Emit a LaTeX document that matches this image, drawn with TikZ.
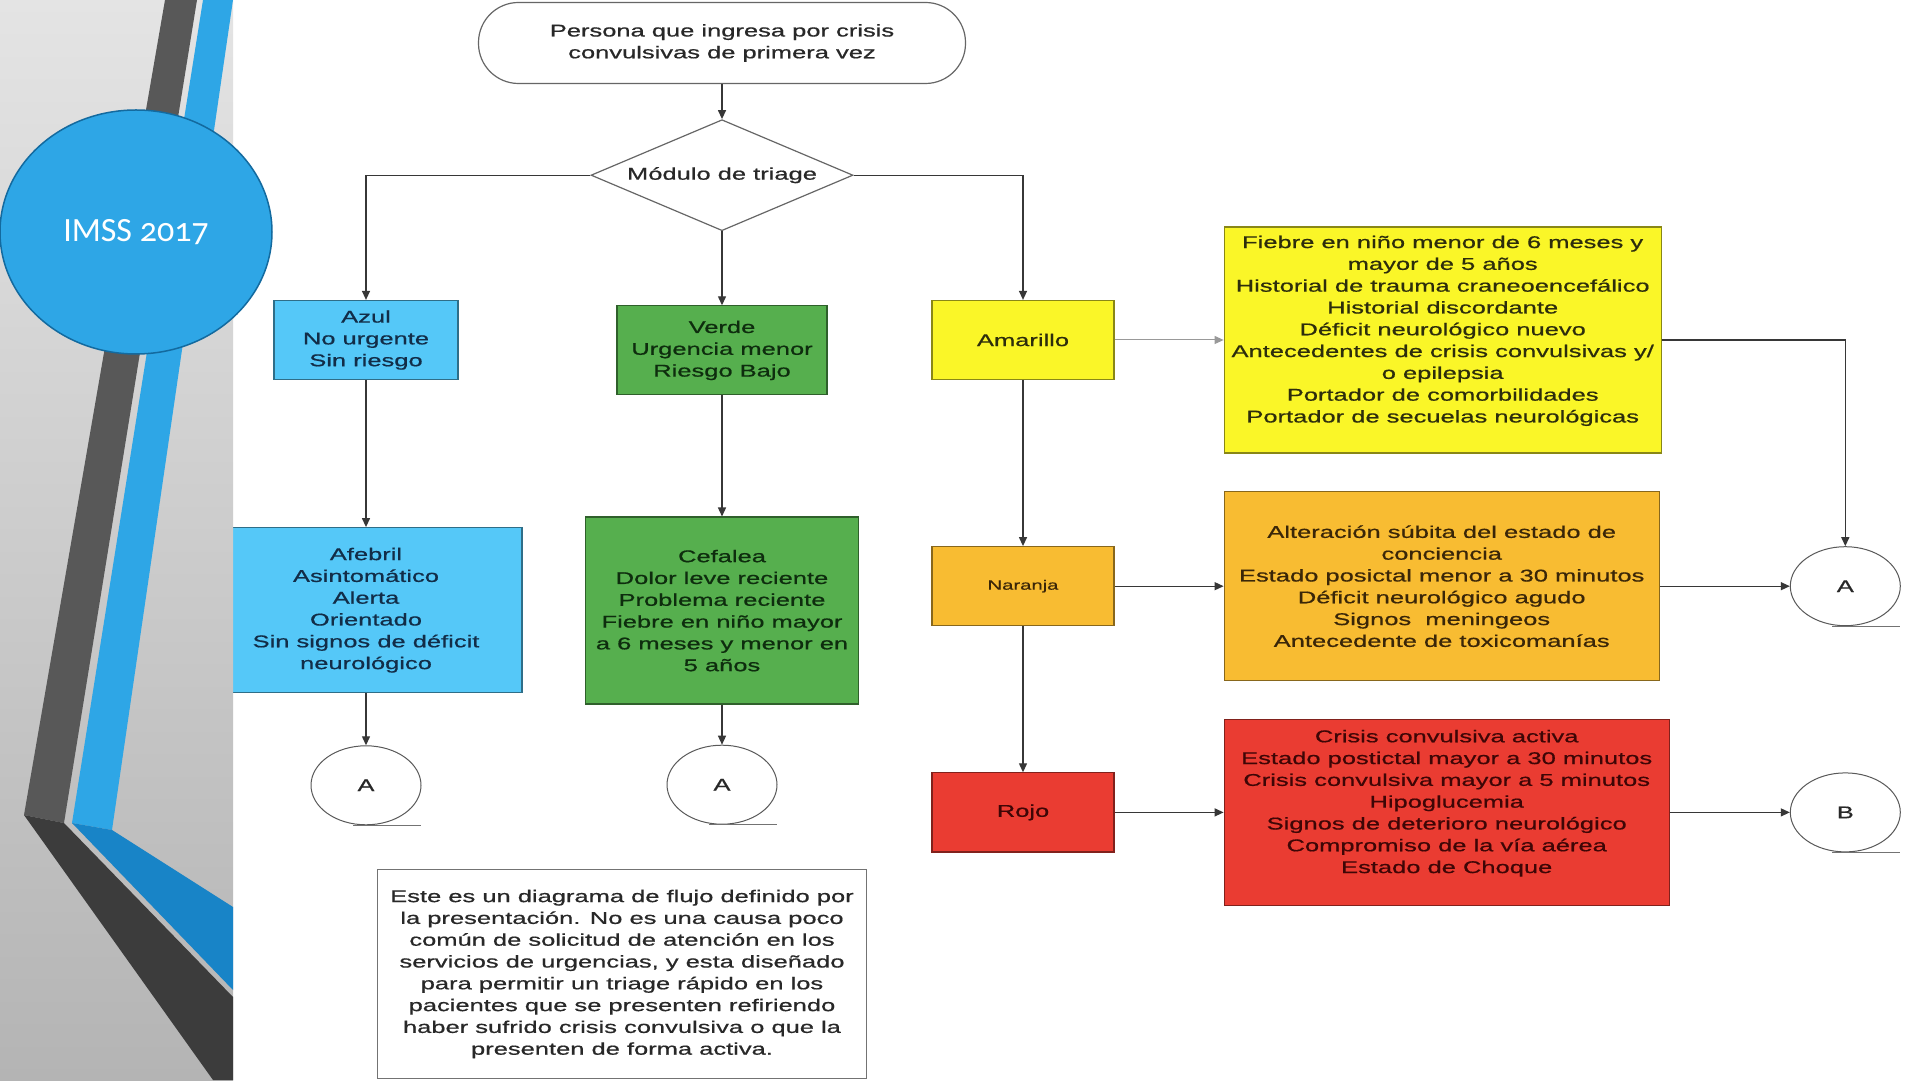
\documentclass[tikz,border=0pt]{standalone}
\usepackage{fontspec}
\setmainfont{Liberation Sans}[FakeStretch=1.5, FakeBold=0.7]
\newfontfamily\slidefont{Carlito}[Numbers=OldStyle]
\usepackage{tikz}
\usetikzlibrary{arrows.meta,positioning,shapes.geometric}

\definecolor{azulfill}{RGB}{85,200,248}
\definecolor{verdefill}{RGB}{86,175,78}
\definecolor{amarillofill}{RGB}{250,246,40}
\definecolor{naranjafill}{RGB}{248,188,50}
\definecolor{rojofill}{RGB}{234,60,50}
\definecolor{azultext}{RGB}{18,45,72}
\definecolor{verdetext}{RGB}{14,45,14}
\definecolor{amarillotext}{RGB}{45,45,12}
\definecolor{naranjatext}{RGB}{58,38,8}
\definecolor{rojotext}{RGB}{62,6,6}
\definecolor{notetext}{RGB}{40,40,40}
\definecolor{linecolor}{RGB}{55,55,55}
\definecolor{slideblue}{RGB}{46,166,230}
\definecolor{slidebluedark}{RGB}{24,132,199}
\definecolor{slidegray}{RGB}{88,88,88}
\definecolor{slidegraydark}{RGB}{60,60,60}

\tikzset{
  triagebox/.style={rectangle, draw=#1!55!black, fill=#1, line width=1.2pt,
    inner sep=2pt, align=center, minimum width=182pt, minimum height=79pt},
  flow/.style={draw=linecolor, line width=1.3pt, -{Triangle[length=9pt,width=8pt]}},
  connector/.style={ellipse, draw=black!65, line width=1pt, text=notetext,
    minimum width=110pt, minimum height=79pt},
}

\begin{document}
\begin{tikzpicture}[x=1pt, y=1pt, font=\fontsize{17}{21.8}\selectfont]
    \useasboundingbox (0,0) rectangle (1920,1080);
    \fill [white] (0,0) rectangle (1920,1080);

    % flujo principal
    \node (start) [rectangle, rounded corners=40pt, draw=black!60, line width=1.2pt, minimum width=487pt, minimum height=81pt, align=center, text=notetext] at (722,1037) {Persona que ingresa por crisis\\convulsivas de primera vez};
    \node (triage) [diamond, aspect=2.36, draw=black!60, line width=1.2pt, minimum width=262pt, minimum height=111pt, inner sep=0pt, text=notetext, below=35pt of start] {Módulo de triage};

    \node (azul) [triagebox=azulfill, minimum width=184pt, text=azultext] at (366,740) {Azul\\No urgente\\Sin riesgo};
    \node (verde) [triagebox=verdefill, minimum width=210pt, minimum height=89pt, text=verdetext, below=74pt of triage] {Verde\\Urgencia menor\\Riesgo Bajo};
    \node (amarillo) [triagebox=amarillofill, text=amarillotext] at (1023,740) {Amarillo};
    \node (naranja) [triagebox=naranjafill, text=naranjatext, font=\fontsize{13.5}{16}\selectfont, below=166pt of amarillo] {Naranja};
    \node (rojo) [triagebox=rojofill, text=rojotext, below=146pt of naranja] {Rojo};

    % criterios
    \node (afebril) [triagebox=azulfill, minimum width=312pt, minimum height=165pt, text=azultext, below=147pt of azul] {Afebril\\Asintomático\\Alerta\\Orientado\\Sin signos de déficit\\neurológico};
    \node (cefalea) [triagebox=verdefill, minimum width=273pt, minimum height=187pt, text=verdetext, below=121pt of verde] {Cefalea\\Dolor leve reciente\\Problema reciente\\Fiebre en niño mayor\\a 6 meses y menor en\\5 años};
    \node (fiebre) [triagebox=amarillofill, minimum width=437pt, minimum height=226pt, text=amarillotext, right=109pt of amarillo] {Fiebre en niño menor de 6 meses y\\mayor de 5 años\\Historial de trauma craneoencefálico\\Historial discordante\\Déficit neurológico nuevo\\Antecedentes de crisis convulsivas y/\\o epilepsia\\Portador de comorbilidades\\Portador de secuelas neurológicas\\~};
    \node (alteracion) [triagebox=naranjafill, minimum width=435pt, minimum height=189pt, text=naranjatext, right=109pt of naranja] {Alteración súbita del estado de\\conciencia\\Estado posictal menor a 30 minutos\\Déficit neurológico agudo\\Signos~ meningeos\\Antecedente de toxicomanías};
    \node (crisis) [triagebox=rojofill, minimum width=445pt, minimum height=186pt, text=rojotext, right=109pt of rojo] {Crisis convulsiva activa\\Estado postictal mayor a 30 minutos\\Crisis convulsiva mayor a 5 minutos\\Hipoglucemia\\Signos de deterioro neurológico\\Compromiso de la vía aérea\\Estado de Choque\\~};

    % conectores
    \node (a1) [connector, below=52pt of afebril] {A};
    \node (a2) [connector, below=40pt of cefalea] {A};
    \node (a3) [connector, right=130pt of alteracion] {A};
    \node (b) [connector, right=120pt of crisis] {B};
    \foreach \c in {a1,a2,a3,b}
        \draw [black!55, line width=1pt] ([xshift=-13pt]\c.south) -- ([xshift=55pt]\c.south);

    \node (nota) [rectangle, draw=black!55, line width=1.2pt, minimum width=489pt, minimum height=209pt, align=center, text=notetext] at (622,106) {Este es un diagrama de flujo definido por\\la presentación. No es una causa poco\\común de solicitud de atención en los\\servicios de urgencias, y esta diseñado\\para permitir un triage rápido en los\\pacientes que se presenten refiriendo\\haber sufrido crisis convulsiva o que la\\presenten de forma activa.};

    \draw [flow] (start) -- (triage);
    \draw [flow] (triage.west) -| (azul);
    \draw [flow] (triage) -- (verde);
    \draw [flow] (triage.east) -| (amarillo);
    \draw [flow] (azul) -- (afebril);
    \draw [flow] (verde) -- (cefalea);
    \draw [flow] (afebril) -- (a1);
    \draw [flow] (cefalea) -- (a2);
    \draw [flow, draw=black!40, line width=1pt] (amarillo) -- (fiebre);
    \draw [flow] (amarillo) -- (naranja);
    \draw [flow] (naranja) -- (rojo);
    \draw [flow] (naranja) -- (alteracion);
    \draw [flow] (rojo) -- (crisis);
    \draw [flow] (fiebre.east) -| (a3);
    \draw [flow] (alteracion) -- (a3);
    \draw [flow] (crisis) -- (b);

    % franja lateral
    \shade [top color={rgb,255:red,228;green,228;blue,228}, bottom color={rgb,255:red,180;green,180;blue,180}] (0,0) rectangle (233,1080);
    \fill [slidegray] (165,1080) -- (197,1080) -- (64,257) -- (24,265) -- cycle;
    \fill [slidegraydark] (24,265) -- (64,257) -- (233,83) -- (233,0) -- (213,0) -- cycle;
    \fill [slideblue] (203,1080) -- (233,1080) -- (112,250) -- (72,257) -- cycle;
    \fill [slidebluedark] (72,257) -- (112,250) -- (233,173) -- (233,90) -- cycle;
    \node (imss) [ellipse, fill=slideblue, draw=slidebluedark!80!black, line width=1.5pt, minimum width=272pt, minimum height=244pt, text=white, font=\slidefont\fontsize{34}{40}\selectfont] at (136,848) {IMSS 2017};
\end{tikzpicture}
\end{document}
